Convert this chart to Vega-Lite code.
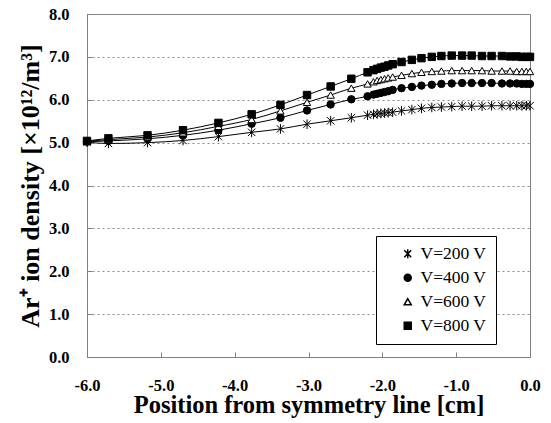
{
  "$schema": "https://vega.github.io/schema/vega-lite/v6.json",
  "width": 443,
  "height": 343,
  "autosize": {"type": "none"},
  "padding": {"left": 87, "top": 14, "right": 21, "bottom": 66},
  "background": "white",
  "config": {
    "font": "Liberation Serif",
    "view": {"stroke": "#808080", "strokeWidth": 1},
    "axis": {"labelFont": "Liberation Serif", "titleFont": "Liberation Serif", "labelColor": "black", "titleColor": "black", "labelFontWeight": "bold", "titleFontWeight": "bold", "domainColor": "#808080", "tickColor": "#808080"},
    "legend": {
      "orient": "none", "legendX": 289, "legendY": 222,
      "strokeColor": "black", "fillColor": "white", "padding": 9,
      "labelFont": "Liberation Serif", "labelFontSize": 17.5, "labelColor": "black", "labelFontWeight": "normal",
      "symbolOffset": 14, "labelOffset": 4, "rowPadding": 5, "symbolSize": 49
    }
  },
  "data": {
    "values": [
      {"x": -6.0, "V=200 V": 5.01, "V=400 V": 5.02, "V=600 V": 5.03, "V=800 V": 5.04},
      {"x": -5.71, "V=200 V": 4.98, "V=400 V": 5.04, "V=600 V": 5.07, "V=800 V": 5.10},
      {"x": -5.18, "V=200 V": 5.00, "V=400 V": 5.09, "V=600 V": 5.13, "V=800 V": 5.17},
      {"x": -4.70, "V=200 V": 5.05, "V=400 V": 5.17, "V=600 V": 5.23, "V=800 V": 5.29},
      {"x": -4.22, "V=200 V": 5.14, "V=400 V": 5.29, "V=600 V": 5.38, "V=800 V": 5.46},
      {"x": -3.77, "V=200 V": 5.24, "V=400 V": 5.44, "V=600 V": 5.54, "V=800 V": 5.66},
      {"x": -3.38, "V=200 V": 5.32, "V=400 V": 5.58, "V=600 V": 5.74, "V=800 V": 5.88},
      {"x": -3.02, "V=200 V": 5.43, "V=400 V": 5.75, "V=600 V": 5.94, "V=800 V": 6.11},
      {"x": -2.70, "V=200 V": 5.51, "V=400 V": 5.89, "V=600 V": 6.11, "V=800 V": 6.31},
      {"x": -2.42, "V=200 V": 5.58, "V=400 V": 6.01, "V=600 V": 6.27, "V=800 V": 6.49},
      {"x": -2.20, "V=200 V": 5.64, "V=400 V": 6.08, "V=600 V": 6.37, "V=800 V": 6.64},
      {"x": -2.12, "V=200 V": 5.66, "V=400 V": 6.12, "V=600 V": 6.42, "V=800 V": 6.69},
      {"x": -2.07, "V=200 V": 5.67, "V=400 V": 6.14, "V=600 V": 6.45, "V=800 V": 6.72},
      {"x": -2.02, "V=200 V": 5.68, "V=400 V": 6.16, "V=600 V": 6.47, "V=800 V": 6.75},
      {"x": -1.97, "V=200 V": 5.69, "V=400 V": 6.18, "V=600 V": 6.49, "V=800 V": 6.77},
      {"x": -1.92, "V=200 V": 5.70, "V=400 V": 6.20, "V=600 V": 6.51, "V=800 V": 6.80},
      {"x": -1.86, "V=200 V": 5.71, "V=400 V": 6.23, "V=600 V": 6.53, "V=800 V": 6.83},
      {"x": -1.74, "V=200 V": 5.74, "V=400 V": 6.27, "V=600 V": 6.57, "V=800 V": 6.88},
      {"x": -1.60, "V=200 V": 5.77, "V=400 V": 6.30, "V=600 V": 6.61, "V=800 V": 6.93},
      {"x": -1.47, "V=200 V": 5.80, "V=400 V": 6.33, "V=600 V": 6.64, "V=800 V": 6.97},
      {"x": -1.33, "V=200 V": 5.82, "V=400 V": 6.35, "V=600 V": 6.66, "V=800 V": 7.00},
      {"x": -1.20, "V=200 V": 5.83, "V=400 V": 6.37, "V=600 V": 6.67, "V=800 V": 7.02},
      {"x": -1.06, "V=200 V": 5.84, "V=400 V": 6.38, "V=600 V": 6.68, "V=800 V": 7.03},
      {"x": -0.92, "V=200 V": 5.85, "V=400 V": 6.39, "V=600 V": 6.68, "V=800 V": 7.03},
      {"x": -0.79, "V=200 V": 5.85, "V=400 V": 6.39, "V=600 V": 6.68, "V=800 V": 7.03},
      {"x": -0.65, "V=200 V": 5.85, "V=400 V": 6.39, "V=600 V": 6.68, "V=800 V": 7.02},
      {"x": -0.52, "V=200 V": 5.86, "V=400 V": 6.39, "V=600 V": 6.67, "V=800 V": 7.02},
      {"x": -0.38, "V=200 V": 5.86, "V=400 V": 6.38, "V=600 V": 6.67, "V=800 V": 7.02},
      {"x": -0.27, "V=200 V": 5.86, "V=400 V": 6.38, "V=600 V": 6.67, "V=800 V": 7.01},
      {"x": -0.18, "V=200 V": 5.86, "V=400 V": 6.38, "V=600 V": 6.66, "V=800 V": 7.01},
      {"x": -0.11, "V=200 V": 5.86, "V=400 V": 6.37, "V=600 V": 6.66, "V=800 V": 7.00},
      {"x": -0.05, "V=200 V": 5.86, "V=400 V": 6.37, "V=600 V": 6.66, "V=800 V": 7.00},
      {"x": 0.0, "V=200 V": 5.86, "V=400 V": 6.37, "V=600 V": 6.66, "V=800 V": 7.00}
    ]
  },
  "transform": [
    {"fold": ["V=200 V", "V=400 V", "V=600 V", "V=800 V"], "as": ["V", "n"]}
  ],
  "encoding": {
    "x": {
      "field": "x", "type": "quantitative",
      "scale": {"domain": [-6, 0], "nice": false, "zero": false},
      "axis": {
        "values": [-6, -5, -4, -3, -2, -1, 0], "format": ".1f", "grid": false,
        "labelExpr": "replace(datum.label, '−', '-')",
        "tickSize": -5, "labelPadding": 25, "labelFontSize": 16.5, "labelFlush": false,
        "title": "Position from symmetry line [cm]", "titleFontSize": 24.5, "titlePadding": 0
      }
    },
    "y": {
      "field": "n", "type": "quantitative",
      "scale": {"domain": [0, 8], "nice": false, "zero": false},
      "axis": {
        "values": [0, 1, 2, 3, 4, 5, 6, 7, 8], "format": ".1f", "grid": true,
        "gridDash": [2, 3], "gridColor": "#8a8a8a", "gridWidth": 1,
        "tickSize": -5, "labelPadding": 23, "labelFontSize": 16.5,
        "title": "Ar⁺ ion density [×10¹²/m³]", "titleFontSize": 26, "titlePadding": 5
      }
    }
  },
  "layer": [
    {
      "mark": {"type": "line", "color": "black", "strokeWidth": 1, "interpolate": "monotone"},
      "encoding": {"detail": {"field": "V"}}
    },
    {
      "mark": {"type": "point", "stroke": "black", "strokeWidth": 1, "opacity": 1, "size": 55},
      "encoding": {
        "shape": {
          "field": "V", "type": "nominal",
          "scale": {"domain": ["V=200 V", "V=400 V", "V=600 V", "V=800 V"], "range": ["M-1,-1L1,1M-1,1L1,-1M0,-1.3L0,1.3", "circle", "triangle-up", "square"]},
          "legend": {"title": null}
        },
        "fill": {
          "field": "V", "type": "nominal",
          "scale": {"domain": ["V=200 V", "V=400 V", "V=600 V", "V=800 V"], "range": ["black", "black", "white", "black"]},
          "legend": {"title": null}
        }
      }
    }
  ]
}
